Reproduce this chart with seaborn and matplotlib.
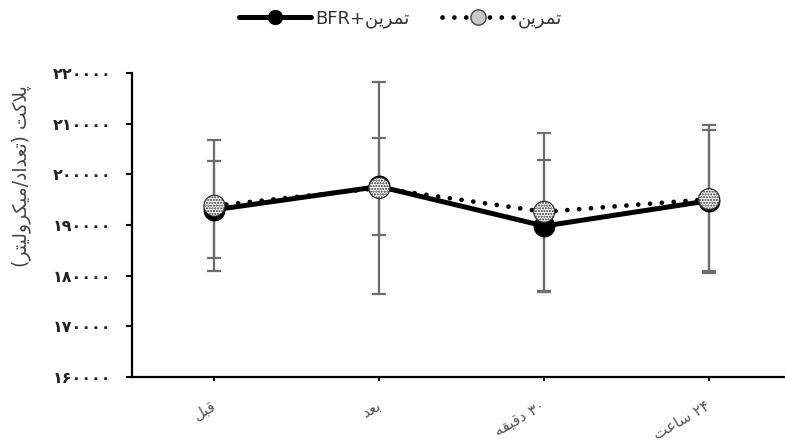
import matplotlib
matplotlib.use("Agg")
import matplotlib.pyplot as plt
import matplotlib.transforms as mtransforms
import numpy as np
import pandas as pd
import seaborn as sns
from matplotlib.lines import Line2D

# Persian text is written in visual order with Arabic presentation forms,
# because matplotlib does no Arabic shaping or bidi.
TAMRIN = "\ufee6\ufef3\ufeae\ufee4\ufe97"                 # تمرین
LBL_BFR = "BFR+" + TAMRIN                               # تمرین+BFR
LBL_EX = TAMRIN                                         # تمرین
YLABEL = ("(" + "\ufeae\ufe98\ufef4\ufedf\ufeed\ufeae\ufb91\ufef4\ufee3"   # میکرولیتر
          + "/" + "\ufea9\ufe8d\ufeaa\ufecc\ufe97" + ") "                  # تعداد
          + "\ufe96\ufb90\ufefc\ufb58")                                    # پلاکت
TIMES = ["\ufede\ufe92\ufed7",                          # قبل
         "\ufeaa\ufecc\ufe91",                          # بعد
         "\ufeea\ufed8\ufef4\ufed7\ufea9 \u06f3\u06f0",  # ۳۰ دقیقه
         "\ufe96\ufecb\ufe8e\ufeb3 \u06f2\u06f4"]        # ۲۴ ساعت

# data
bfr_mean = [193000, 197600, 189800, 194800]
bfr_sd = [9600, 9600, 13100, 13900]
ex_mean = [193800, 197300, 192600, 195100]
ex_sd = [12900, 20900, 15600, 14600]
yticks = [160000, 170000, 180000, 190000, 200000, 210000, 220000]

PERSIAN = str.maketrans("0123456789", "\u06f0\u06f1\u06f2\u06f3\u06f4\u06f5\u06f6\u06f7\u06f8\u06f9")

sns.set_theme(style="white")
plt.rcParams["font.family"] = ["DejaVu Sans"]

df = pd.DataFrame({
    "time": TIMES * 2,
    "mean": bfr_mean + ex_mean,
    "sd": bfr_sd + ex_sd,
    "group": ["bfr"] * 4 + ["ex"] * 4,
})

fig = plt.figure(figsize=(7.85, 4.46), dpi=100)
ax = fig.add_axes([132 / 785, 1 - 377 / 446, 1 - 132 / 785, (377 - 73) / 446])

x = np.arange(len(TIMES))
ecol = "#6d6d6d"
ax.errorbar(x, ex_mean, yerr=ex_sd, fmt="none", ecolor=ecol, elinewidth=1.6,
            capsize=5, capthick=1.6, zorder=1)
ax.errorbar(x, bfr_mean, yerr=bfr_sd, fmt="none", ecolor=ecol, elinewidth=1.6,
            capsize=5, capthick=1.6, zorder=1)

bfr = df[df["group"] == "bfr"]
ex = df[df["group"] == "ex"]
sns.lineplot(data=bfr, x="time", y="mean", color="black", lw=3.6, marker="o",
             markersize=15, markeredgecolor="black", sort=False, ax=ax, zorder=3)
sns.lineplot(data=ex, x="time", y="mean", color="black", lw=3.4, sort=False,
             ax=ax, zorder=4, dashes=False)
ax.lines[-1].set_dashes((0.01, 2.5))
ax.lines[-1].set_dash_capstyle("round")
ax.scatter(x, ex_mean, s=230, marker="o", facecolors="white",
           edgecolors="#2a2a2a", hatch="......", linewidths=0.8, zorder=5)

ax.set_xlim(-0.5, 3.46)
ax.set_ylim(160000, 220000)
ax.set_yticks(yticks)
ax.set_yticklabels([str(v).translate(PERSIAN) for v in yticks],
                   fontsize=11.5, fontweight="bold", color="#222222")
ax.set_xticks(x)
ax.set_xticklabels(TIMES, fontsize=11, color="#555555")
shift = mtransforms.ScaledTranslation(4 / 72, 0, fig.dpi_scale_trans)
for lab in ax.get_xticklabels():
    lab.set_rotation(30)
    lab.set_ha("right")
    lab.set_va("center")
    lab.set_rotation_mode("anchor")
    lab.set_transform(lab.get_transform() + shift)

ax.set_xlabel("")
ax.set_ylabel(YLABEL, fontsize=13.5, color="#444444")
ax.yaxis.set_label_coords(-0.155, 0.66)

for side in ["top", "right"]:
    ax.spines[side].set_visible(False)
for side in ["left", "bottom"]:
    ax.spines[side].set_color("black")
    ax.spines[side].set_linewidth(1.6)
ax.tick_params(axis="y", direction="out", length=4, width=1.5, color="black",
               left=True, pad=11)
ax.tick_params(axis="x", direction="out", length=3, width=1.5, color="black",
               bottom=True, pad=17)
ax.grid(False)

h_bfr = Line2D([], [], color="black", lw=3.6, marker="o", markersize=10)
h_ex = Line2D([], [], color="black", lw=3.4, dashes=(0.01, 2.5),
              dash_capstyle="round", marker="o", markersize=11,
              markerfacecolor="#c8c8c8", markeredgecolor="#444444", markeredgewidth=1)
fig.legend([h_bfr, h_ex], [LBL_BFR, LBL_EX], loc="upper center",
           bbox_to_anchor=(0.51, 1.015), ncol=2, frameon=False, fontsize=13,
           handlelength=4.0, columnspacing=1.8, handletextpad=0.2,
           labelcolor="#333333")

fig.savefig("out.png", dpi=100)
